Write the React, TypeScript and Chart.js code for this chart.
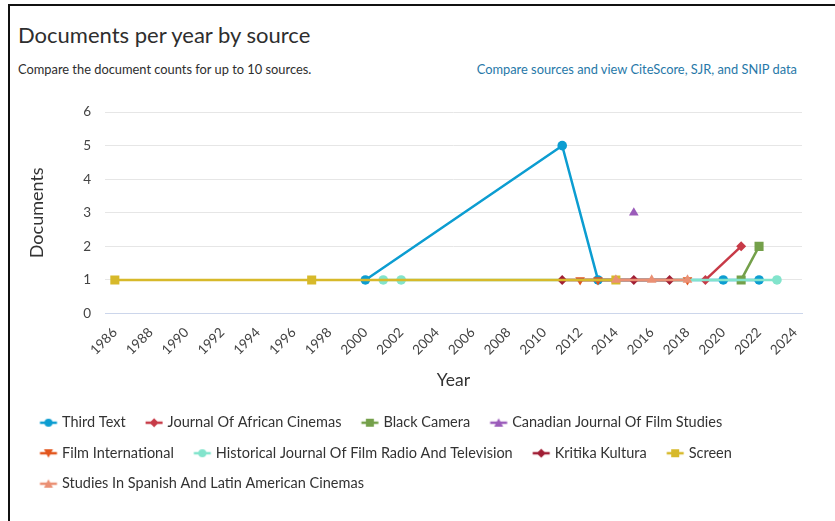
import React, { useEffect, useRef } from "react";
import { Chart, registerables } from "chart.js";

Chart.register(...registerables);

const FONT = "Lato, 'Open Sans', sans-serif";

// ---- data ----
const yearTicks = [1986, 1988, 1990, 1992, 1994, 1996, 1998, 2000, 2002, 2004, 2006, 2008, 2010, 2012, 2014, 2016, 2018, 2020, 2022, 2024];
const countTicks = [0, 1, 2, 3, 4, 5, 6];

const seriesNames = [
  "Third Text",
  "Journal Of African Cinemas",
  "Black Camera",
  "Canadian Journal Of Film Studies",
  "Film International",
  "Historical Journal Of Film Radio And Television",
  "Kritika Kultura",
  "Screen",
  "Studies In Spanish And Latin American Cinemas",
];
const seriesColors = ["#0c9dd1", "#c73a47", "#74a04a", "#9b5cba", "#e2561d", "#82e4cc", "#a01e34", "#d7b92a", "#ea9074"];
const seriesMarkers = ["circle", "diamond", "square", "triangle", "triangle-down", "circle", "diamond", "square", "triangle"];

const thirdTextYears = [2000, 2011, 2013, 2020, 2022];
const thirdTextDocs = [1, 5, 1, 1, 1];
const africanCinemasYears = [2019, 2021];
const africanCinemasDocs = [1, 2];
const blackCameraYears = [2021, 2022];
const blackCameraDocs = [1, 2];
const canadianYears = [2015];
const canadianDocs = [3];
const filmIntlYears = [2012, 2013, 2018];
const filmIntlDocs = [1, 1, 1];
const historicalYears = [2001, 2002, 2023];
const historicalDocs = [1, 1, 1];
const kritikaYears = [2011, 2015, 2017];
const kritikaDocs = [1, 1, 1];
const screenYears = [1986, 1997, 2014];
const screenDocs = [1, 1, 1];
const spanishYears = [2014, 2016, 2018];
const spanishDocs = [1, 1, 1];

const seriesYears = [thirdTextYears, africanCinemasYears, blackCameraYears, canadianYears, filmIntlYears, historicalYears, kritikaYears, screenYears, spanishYears];
const seriesDocs = [thirdTextDocs, africanCinemasDocs, blackCameraDocs, canadianDocs, filmIntlDocs, historicalDocs, kritikaDocs, screenDocs, spanishDocs];

function markerStyle(m: string) {
  switch (m) {
    case "diamond":
      return { pointStyle: "rectRot", radius: 5, rotation: 0 };
    case "square":
      return { pointStyle: "rect", radius: 6.4, rotation: 0 };
    case "triangle":
      return { pointStyle: "triangle", radius: 5.6, rotation: 0 };
    case "triangle-down":
      return { pointStyle: "triangle", radius: 5.6, rotation: 180 };
    default:
      return { pointStyle: "circle", radius: 4.8, rotation: 0 };
  }
}

// legend icon: 26px wide image, the 17px line+marker drawn from x=7.6
function makeIcon(color: string, marker: string): HTMLCanvasElement {
  const c = document.createElement("canvas");
  c.width = 26;
  c.height = 12;
  const ctx = c.getContext("2d")!;
  const o = 7.6;
  ctx.strokeStyle = color;
  ctx.fillStyle = color;
  ctx.lineWidth = 2.5;
  ctx.beginPath();
  ctx.moveTo(o, 6);
  ctx.lineTo(o + 17, 6);
  ctx.stroke();
  const cx = o + 8.5, cy = 6;
  ctx.beginPath();
  if (marker === "circle") {
    ctx.arc(cx, cy, 4, 0, Math.PI * 2);
  } else if (marker === "diamond") {
    ctx.moveTo(cx, cy - 4.5);
    ctx.lineTo(cx + 4.5, cy);
    ctx.lineTo(cx, cy + 4.5);
    ctx.lineTo(cx - 4.5, cy);
    ctx.closePath();
  } else if (marker === "square") {
    ctx.rect(cx - 4, cy - 4, 8, 8);
  } else if (marker === "triangle") {
    ctx.moveTo(cx, cy - 4.5);
    ctx.lineTo(cx + 4.5, cy + 4);
    ctx.lineTo(cx - 4.5, cy + 4);
    ctx.closePath();
  } else {
    ctx.moveTo(cx, cy + 4.5);
    ctx.lineTo(cx + 4.5, cy - 4);
    ctx.lineTo(cx - 4.5, cy - 4);
    ctx.closePath();
  }
  ctx.fill();
  return c;
}

function DocsChart() {
  const ref = useRef<HTMLCanvasElement | null>(null);
  useEffect(() => {
    if (!ref.current) return;
    const icons = seriesNames.map((_, i) => makeIcon(seriesColors[i], seriesMarkers[i]));
    const datasets = seriesNames.map((name, i) => {
      const ms = markerStyle(seriesMarkers[i]);
      return {
        label: name,
        data: seriesYears[i].map((yr, j) => ({ x: yr, y: seriesDocs[i][j] })),
        borderColor: seriesColors[i],
        backgroundColor: seriesColors[i],
        borderWidth: 2.5,
        pointStyle: ms.pointStyle,
        pointRadius: ms.radius,
        pointRotation: ms.rotation,
        pointBorderWidth: 0,
        pointBackgroundColor: seriesColors[i],
        tension: 0,
        order: -i,
      };
    });
    const chart = new Chart(ref.current, {
      type: "line",
      data: { datasets: datasets as any },
      options: {
        animation: false,
        responsive: true,
        maintainAspectRatio: false,
        layout: { padding: { left: 10, right: 33, top: 22, bottom: 20 } },
        plugins: {
          tooltip: { enabled: false },
          legend: {
            position: "bottom",
            align: "start",
            labels: {
              usePointStyle: true,
              pointStyleWidth: 18.75,
              padding: 16,
              color: "#333",
              font: { family: FONT, size: 14.5 },
              generateLabels: (ch: any) =>
                ch.data.datasets.map((ds: any, i: number) => ({
                  text: ds.label,
                  pointStyle: icons[i],
                  fillStyle: seriesColors[i],
                  strokeStyle: seriesColors[i],
                  lineWidth: 0,
                  hidden: false,
                  datasetIndex: i,
                  fontColor: "#333",
                })),
            },
          },
        },
        scales: {
          x: {
            type: "linear",
            min: 1985.45,
            max: 2024.4,
            afterBuildTicks: (axis: any) => {
              axis.ticks = yearTicks.map((v) => ({ value: v }));
            },
            afterFit: (scale: any) => {
              scale.height = 86;
            },
            ticks: {
              autoSkip: false,
              minRotation: 45,
              maxRotation: 45,
              padding: 3,
              color: "#444",
              font: { family: FONT, size: 13.5 },
              callback: (v: any) => String(v),
            },
            grid: { display: false },
            border: { display: true, color: "#ccd6eb", width: 1 },
            title: {
              display: true,
              text: "Year",
              color: "#333",
              font: { family: FONT, size: 17.5 },
              padding: { top: 22, bottom: 9 },
            },
          },
          y: {
            min: 0,
            max: 6,
            afterBuildTicks: (axis: any) => {
              axis.ticks = countTicks.map((v) => ({ value: v }));
            },
            afterFit: (scale: any) => {
              scale.width = 85;
            },
            ticks: {
              padding: 14,
              color: "#444",
              font: { family: FONT, size: 13.5 },
              callback: (v: any) => String(v),
            },
            grid: { color: "#e6e6e6", drawTicks: false },
            border: { display: false },
            title: {
              display: true,
              text: "Documents",
              color: "#333",
              font: { family: FONT, size: 18 },
              padding: { top: 6, bottom: 4 },
            },
          },
        },
      },
    });
    return () => chart.destroy();
  }, []);
  return <canvas ref={ref} />;
}

export default function App() {
  return (
    <div style={{ position: "fixed", left: 0, top: 0, width: 835, height: 521, background: "#fff", fontFamily: FONT, overflow: "hidden" }}>
      <div style={{ position: "absolute", left: 8, top: 4, right: 0, bottom: 0, borderLeft: "2px solid #111", borderTop: "2px solid #111" }} />
      <div style={{ position: "absolute", left: 18, top: 21, fontSize: 22, lineHeight: "28px", color: "#2e2e2e", whiteSpace: "nowrap" }}>
        Documents per year by source
      </div>
      <div style={{ position: "absolute", left: 18, top: 61, fontSize: 12.85, lineHeight: "16px", color: "#2e2e2e", whiteSpace: "nowrap" }}>
        Compare the document counts for up to 10 sources.
      </div>
      <div style={{ position: "absolute", right: 38, top: 61, fontSize: 12.85, lineHeight: "16px", color: "#2778a8", whiteSpace: "nowrap" }}>
        Compare sources and view CiteScore, SJR, and SNIP data
      </div>
      <div style={{ position: "absolute", left: 10, top: 90, width: 825, height: 431 }}>
        <DocsChart />
      </div>
    </div>
  );
}
